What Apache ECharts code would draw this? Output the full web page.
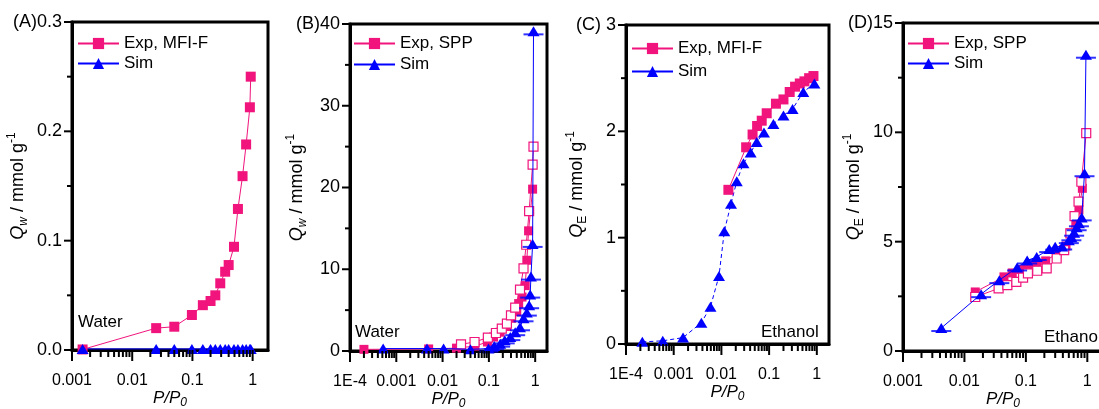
<!DOCTYPE html>
<html><head><meta charset="utf-8">
<script src="https://cdn.jsdelivr.net/npm/echarts@6/dist/echarts.min.js"></script>
<style>html,body{margin:0;padding:0;background:#fff}#c{width:1099px;height:409px}</style>
</head><body><div id="c"></div>
<script>
// ---------------- data ----------------
// (A) water, MFI-F
const pA_exp = [0.0015, 0.025, 0.05, 0.098, 0.149, 0.2, 0.24, 0.29, 0.35, 0.40, 0.49, 0.57, 0.68, 0.78, 0.90, 0.93];
const qA_exp = [0.0005, 0.020, 0.0213, 0.032, 0.041, 0.0448, 0.050, 0.061, 0.0716, 0.0777, 0.0944, 0.129, 0.159, 0.188, 0.222, 0.250];
const pA_sim = [0.0015, 0.025, 0.05, 0.098, 0.149, 0.2, 0.24, 0.29, 0.35, 0.40, 0.49, 0.57, 0.68, 0.78, 0.90, 0.93];
const qA_sim = [0.001, 0.001, 0.001, 0.001, 0.001, 0.001, 0.001, 0.001, 0.001, 0.001, 0.001, 0.001, 0.001, 0.001, 0.001, 0.001];
// (B) water, SPP
const pB_ads = [0.0002, 0.005, 0.02, 0.05, 0.093, 0.126, 0.175, 0.245, 0.31, 0.40, 0.44, 0.52, 0.61, 0.66, 0.72, 0.88];
const qB_ads = [0.2, 0.25, 0.35, 0.6, 1.1, 1.7, 2.3, 3.0, 4.0, 4.8, 5.8, 6.6, 8.0, 11.1, 14.7, 19.8];
const pB_des = [0.025, 0.049, 0.095, 0.142, 0.19, 0.245, 0.30, 0.37, 0.47, 0.56, 0.64, 0.74, 0.88, 0.92];
const qB_des = [0.82, 1.1, 1.64, 2.2, 2.74, 3.35, 4.37, 5.3, 7.5, 10.1, 13.0, 17.1, 22.8, 25.0];
const pB_sim = [0.00052, 0.0046, 0.0105, 0.04, 0.098, 0.13, 0.175, 0.22, 0.29, 0.37, 0.47, 0.56, 0.66, 0.74, 0.78, 0.81, 0.88, 0.92];
const qB_sim = [0.3, 0.3, 0.3, 0.2, 0.3, 0.6, 0.9, 1.3, 1.7, 2.3, 2.9, 4.0, 4.7, 5.6, 6.9, 9.1, 13.1, 39.1];
// (C) ethanol, MFI-F
const pC_exp = [0.014, 0.033, 0.045, 0.056, 0.07, 0.089, 0.139, 0.2, 0.27, 0.35, 0.44, 0.55, 0.69, 0.85];
const qC_exp = [1.45, 1.85, 1.97, 2.05, 2.10, 2.17, 2.26, 2.30, 2.37, 2.42, 2.45, 2.47, 2.50, 2.52];
const pC_sim = [0.00022, 0.00059, 0.00157, 0.0038, 0.0059, 0.0089, 0.0115, 0.0159, 0.021, 0.029, 0.041, 0.055, 0.078, 0.123, 0.2, 0.31, 0.52, 0.89];
const qC_sim = [0.02, 0.03, 0.06, 0.20, 0.35, 0.64, 1.06, 1.32, 1.53, 1.70, 1.80, 1.90, 1.99, 2.07, 2.15, 2.21, 2.37, 2.45];
// (D) ethanol, SPP
const pD_ads = [0.015, 0.044, 0.06, 0.082, 0.112, 0.15, 0.21, 0.32, 0.45, 0.53, 0.65, 0.73, 0.83];
const qD_ads = [2.7, 3.39, 3.57, 3.73, 3.93, 4.0, 4.12, 4.46, 4.8, 5.4, 5.9, 6.45, 7.44];
const pD_des = [0.015, 0.036, 0.05, 0.07, 0.09, 0.108, 0.153, 0.218, 0.317, 0.42, 0.53, 0.62, 0.72, 0.80, 0.96];
const qD_des = [2.47, 2.86, 3.01, 3.16, 3.36, 3.55, 3.67, 3.78, 4.23, 4.61, 5.38, 6.17, 6.83, 7.74, 9.96];
const pD_sim = [0.0042, 0.0187, 0.037, 0.072, 0.105, 0.15, 0.24, 0.30, 0.39, 0.50, 0.55, 0.61, 0.67, 0.73, 0.81, 0.90, 0.95];
const qD_sim = [1.05, 2.6, 3.24, 3.82, 4.14, 4.3, 4.66, 4.77, 4.78, 5.07, 5.2, 5.41, 5.66, 5.84, 6.11, 8.13, 13.55];

// axis ticks and labels
const xTicks3 = [0.001, 0.01, 0.1, 1];
const xLabels3 = ['0.001', '0.01', '0.1', '1'];
const xTicks4 = [0.0001, 0.001, 0.01, 0.1, 1];
const xLabels4 = ['1E-4', '0.001', '0.01', '0.1', '1'];
const minorMult = [2, 3, 4, 5, 6, 7, 8, 9];
const xMax = 1.8;
const yTicksA = [0, 0.1, 0.2, 0.3], yMinorA = [0.05, 0.15, 0.25];
const yTicksB = [0, 10, 20, 30, 40], yMinorB = [5, 15, 25, 35];
const yTicksC = [0, 1, 2, 3], yMinorC = [0.5, 1.5, 2.5];
const yTicksD = [0, 5, 10, 15], yMinorD = [2.5, 7.5, 12.5];
const panelTags = ['(A)', '(B)', '(C) ', '(D)'];
const legendNames = [['Exp, MFI-F', 'Sim'], ['Exp, SPP', 'Sim'], ['Exp, MFI-F', 'Sim'], ['Exp, SPP', 'Sim']];
const notes = ['Water', 'Water', 'Ethanol', 'Ethanol'];

// ---------------- chart ----------------
const FONT = "'Liberation Sans', Arial, sans-serif";
const PINK = '#f0147c', BLUE = '#0000ff';
const zip = (a, b) => a.map((v, i) => [v, b[i]]);
function minors(ticks) {
  const out = [];
  ticks.forEach(t => minorMult.forEach(m => { const v = t * m; if (v < xMax) out.push(+v.toPrecision(6)); }));
  return out;
}

const grids = [
  {left: 72, top: 22, width: 196, height: 328},
  {left: 350, top: 24, width: 197, height: 327},
  {left: 626, top: 25, width: 203, height: 319},
  {left: 903, top: 23, width: 200, height: 328}
];
const xTickSets = [[xTicks3, xLabels3], [xTicks4, xLabels4], [xTicks4, xLabels4], [xTicks3, xLabels3]];
const yTickSets = [[yTicksA, yMinorA], [yTicksB, yMinorB], [yTicksC, yMinorC], [yTicksD, yMinorD]];
const yNameGap = [42, 41, 37, 37];

const xName = '{i|P/P}{s|0}';
const xRich = {
  i: {fontStyle: 'italic', fontSize: 17, fontFamily: FONT, color: '#000', lineHeight: 22},
  s: {fontStyle: 'italic', fontSize: 12, fontFamily: FONT, color: '#000', lineHeight: 10, verticalAlign: 'bottom'}
};
const yRich = {
  q: {fontStyle: 'italic', fontSize: 18, fontFamily: FONT, color: '#000', lineHeight: 24},
  n: {fontSize: 18, fontFamily: FONT, color: '#000', lineHeight: 24},
  s: {fontSize: 12, fontFamily: FONT, color: '#000', lineHeight: 10, verticalAlign: 'bottom'},
  si: {fontSize: 12, fontStyle: 'italic', fontFamily: FONT, color: '#000', lineHeight: 10, verticalAlign: 'bottom'},
  p: {fontSize: 12, fontFamily: FONT, color: '#000', lineHeight: 10, verticalAlign: 'top'}
};
const yNames = [
  '{q|Q}{si|w}{n| / mmol g}{p|-1}', '{q|Q}{si|w}{n| / mmol g}{p|-1}',
  '{q|Q}{s|E}{n| / mmol g}{p|-1}', '{q|Q}{s|E}{n| / mmol g}{p|-1}'
];

const xAxis = [], yAxis = [], tickSeries = [];
grids.forEach((g, i) => {
  const [tv, tl] = xTickSets[i];
  const [yt, ym] = yTickSets[i];
  const yMax = yt[yt.length - 1];
  xAxis.push({
    type: 'log', logBase: 10, gridIndex: i, min: tv[0], max: xMax, position: 'bottom',
    axisLine: {show: true, onZero: false, lineStyle: {color: '#000', width: 3}},
    axisTick: {show: false}, minorTick: {show: false}, splitLine: {show: false},
    axisLabel: {show: true, customValues: tv, margin: 23, fontSize: 16, fontFamily: FONT, color: '#000',
      formatter: v => { const k = tv.findIndex(t => Math.abs(Math.log10(t) - Math.log10(v)) < 1e-6); return k >= 0 ? tl[k] : ''; }},
    name: xName, nameLocation: 'middle', nameGap: 37, nameMoveOverlap: false, nameTextStyle: {rich: xRich}
  });
  yAxis.push({
    type: 'value', gridIndex: i, min: 0, max: yMax, interval: yt[1] - yt[0],
    axisLine: {show: true, onZero: false, lineStyle: {color: '#000', width: 3}},
    axisTick: {show: false}, minorTick: {show: false}, splitLine: {show: false},
    axisLabel: {margin: 10, fontSize: 18, fontFamily: FONT, color: '#000',
      formatter: v => { const s = i === 0 ? v.toFixed(1) : String(v); return Math.abs(v - yMax) < 1e-9 ? panelTags[i] + s : s; }},
    name: yNames[i], nameLocation: 'middle', nameRotate: 90, nameGap: yNameGap[i], nameMoveOverlap: false, nameTextStyle: {rich: yRich}
  });
  // x ticks (major + log minor), drawn through the axis scale
  tickSeries.push({
    type: 'custom', name: 'xticks' + i, xAxisIndex: i, yAxisIndex: i, clip: false, silent: true, z: 6,
    encode: {x: 0, y: 1},
    data: tv.map(v => [v, 0, 1]).concat(minors(tv).map(v => [v, 0, 0])),
    renderItem: (params, api) => {
      const p = api.coord([api.value(0), api.value(1)]);
      const len = api.value(2) ? 11 : 7;
      return {type: 'line', shape: {x1: p[0], y1: p[1], x2: p[0], y2: p[1] + len}, style: {stroke: '#000', lineWidth: 2}};
    }
  });
  // y ticks (major + minor)
  tickSeries.push({
    type: 'custom', name: 'yticks' + i, xAxisIndex: i, yAxisIndex: i, clip: false, silent: true, z: 6,
    encode: {x: 0, y: 1},
    data: yt.map(v => [tv[0], v, 1]).concat(ym.map(v => [tv[0], v, 0])),
    renderItem: (params, api) => {
      const p = api.coord([api.value(0), api.value(1)]);
      const len = api.value(2) ? 8 : 5;
      return {type: 'line', shape: {x1: p[0], y1: p[1], x2: p[0] - len, y2: p[1]}, style: {stroke: '#000', lineWidth: 2}};
    }
  });
});

function lineSeries(name, i, p, q, o) {
  return Object.assign({
    type: 'line', name, xAxisIndex: i, yAxisIndex: i, data: zip(p, q),
    symbol: 'rect', symbolSize: 10, showSymbol: true,
    lineStyle: {color: PINK, width: 1}, itemStyle: {color: PINK}, silent: true
  }, o || {});
}
const sqSolid = c => ({symbol: 'rect', lineStyle: {color: c, width: 1}, itemStyle: {color: c}});
const openSq = {symbol: 'rect', symbolSize: 9, lineStyle: {color: PINK, width: 1}, itemStyle: {color: '#fff', borderColor: PINK, borderWidth: 1.2}};
const tri = sz => ({symbol: 'triangle', symbolSize: sz, lineStyle: {color: BLUE, width: 1}, itemStyle: {color: BLUE}});
function bars(i, p, q) {
  return {type: 'scatter', name: 'err' + i, xAxisIndex: i, yAxisIndex: i, data: zip(p, q), symbol: 'rect',
    symbolSize: [20, 2], symbolOffset: [0, 3], itemStyle: {color: BLUE}, silent: true, z: 5};
}
const bSel = pB_sim.map((p, k) => [p, qB_sim[k]]).filter(d => d[0] >= 0.09);

const series = [
  lineSeries('Exp, MFI-F', 0, pA_exp, qA_exp, Object.assign(sqSolid(PINK), {symbolSize: 10})),
  lineSeries('Sim', 0, pA_sim, qA_sim, tri([12, 10])),
  lineSeries('Exp, SPP', 1, pB_ads, qB_ads, Object.assign(sqSolid(PINK), {symbolSize: 9})),
  lineSeries('Exp, SPP (desorption)', 1, pB_des, qB_des, openSq),
  lineSeries('Sim', 1, pB_sim, qB_sim, Object.assign(tri([12, 10]), {z: 4})),
  bars(1, bSel.map(d => d[0]), bSel.map(d => d[1])),
  lineSeries('Exp, MFI-F', 2, pC_exp, qC_exp, Object.assign(sqSolid(PINK), {symbolSize: 10})),
  lineSeries('Sim', 2, pC_sim, qC_sim, Object.assign(tri([12, 10]), {lineStyle: {color: BLUE, width: 1, type: [4, 3]}})),
  lineSeries('Exp, SPP', 3, pD_ads, qD_ads, Object.assign(sqSolid(PINK), {symbolSize: 9})),
  lineSeries('Exp, SPP (desorption)', 3, pD_des, qD_des, openSq),
  lineSeries('Sim', 3, pD_sim, qD_sim, Object.assign(tri([12, 10]), {z: 4})),
  bars(3, pD_sim, qD_sim)
].concat(tickSeries);

const legendPos = [
  {left: 77, top: 35, itemGap: 3},
  {left: 353, top: 35, itemGap: 4},
  {left: 631, top: 40, itemGap: 6},
  {left: 907, top: 35, itemGap: 3}
];
const legend = legendPos.map((lp, i) => Object.assign({
  data: legendNames[i], orient: 'vertical', itemWidth: 41, itemHeight: 14, padding: 0, selectedMode: false,
  textStyle: {fontSize: 17, fontFamily: FONT, color: '#000'}
}, lp));

const notePos = [[78, 322], [355, 332], [761, 332], [1044, 337]];
const graphic = notes.map((t, i) => ({
  type: 'text', x: notePos[i][0], y: notePos[i][1], silent: true,
  style: {text: t, fontSize: 17, fontFamily: FONT, fill: '#000', verticalAlign: 'middle', align: 'left'}
}));

const chart = echarts.init(document.getElementById('c'), null, {renderer: 'canvas'});
chart.setOption({
  animation: false,
  backgroundColor: '#fff',
  grid: grids.map(g => Object.assign({show: true, borderColor: '#000', borderWidth: 3, backgroundColor: 'transparent',
    containLabel: false, outerBoundsMode: 'none'}, g)),
  xAxis, yAxis, legend, series, graphic
});
</script></body></html>
